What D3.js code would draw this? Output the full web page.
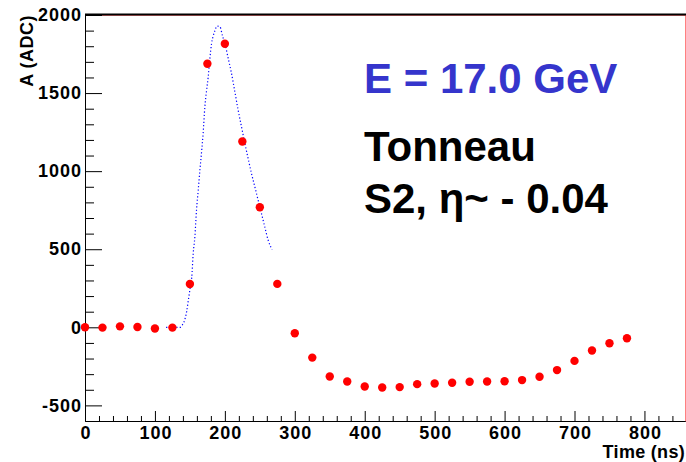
<!DOCTYPE html>
<html>
<head>
<meta charset="utf-8">
<script src="https://cdn.jsdelivr.net/npm/d3@7"></script>
<style>
  body { margin: 0; background: #fff; }
  text { font-family: "Liberation Sans", Arial, sans-serif; font-weight: bold; }
</style>
</head>
<body>
<div id="chart"></div>
<script>
// measured samples (ns, ADC)
var sampleTime = d3.range(0, 800, 25);
var sampleAdc = [0, -2, 6, 2, -8, -2, 277, 1688, 1816, 1190, 769, 278,
  -38, -194, -315, -347, -379, -385, -383, -364, -360, -355, -349, -347,
  -345, -338, -317, -274, -215, -149, -102, -70];

// fitted pulse shape (blue dotted)
var fitTime = [116, 136, 138.8, 141.6, 143.5, 145.5, 147.4, 149.2, 151.2, 152.6, 154.7,
  157.1, 159.5, 161.9, 164.3, 166.7, 169, 171.4, 173.8, 176.2, 178.6, 181, 183.3,
  185.7, 189, 192.9, 196.7, 200, 204.8, 209.5, 214.3, 219, 223.8, 228.6, 233.3,
  238.1, 242.9, 247.6, 252.4, 257.1, 261.9, 267.6];
var fitAdc = [0, 0, 13, 34, 62, 104, 162, 216, 280, 318, 472,
  579, 754, 878, 1006, 1124, 1246, 1412, 1515, 1605, 1722, 1818, 1865,
  1899, 1929, 1925, 1865, 1818, 1722, 1626, 1508, 1391, 1284, 1178, 1081,
  985, 899, 814, 728, 643, 558, 498];

var xMajor = d3.range(0, 801, 100);
var xMinor = d3.range(0, 858, 20).filter(function(d) { return d % 100 != 0; });
var yMajor = d3.range(-500, 2001, 500);
var yMinor = d3.range(-500, 2000, 100).filter(function(d) { return d % 500 != 0; });

var W = 686, H = 462;
var frame = {left: 85, right: 685, top: 15, bottom: 421};

// plain hyphen minus, as in the original
var fmt = function(d) { return String(d); };

var svg = d3.select("#chart").append("svg")
  .attr("width", W)
  .attr("height", H);

var x = d3.scaleLinear().domain([0, 858]).range([frame.left, frame.right]);
var y = d3.scaleLinear().domain([-600, 2000]).range([frame.bottom, frame.top]);

// frame
svg.append("rect")
  .attr("x", frame.left + 0.5).attr("y", frame.top + 0.5)
  .attr("width", frame.right - frame.left).attr("height", frame.bottom - frame.top)
  .attr("fill", "none")
  .attr("stroke", "#ff8080")
  .attr("stroke-width", 1);
svg.append("line")
  .attr("x1", frame.left).attr("x2", frame.right + 1)
  .attr("y1", frame.top - 0.5).attr("y2", frame.top - 0.5)
  .attr("stroke", "#000").attr("stroke-width", 2);

// x axis
var gx = svg.append("g")
  .attr("class", "axis")
  .attr("transform", "translate(0," + frame.bottom + ")");
gx.call(d3.axisBottom(x).tickValues(xMinor).tickSize(-5).tickSizeOuter(0).tickFormat(""));
gx.append("g").call(d3.axisBottom(x).tickValues(xMajor).tickSize(-10).tickSizeOuter(0)
  .tickPadding(5).tickFormat(fmt));
gx.selectAll("text").style("font-size", "18px").style("letter-spacing", "1px")
  .attr("dx", "0.5px").attr("fill", "#000");
gx.selectAll(".domain").attr("stroke", "#000");

// y axis
var gy = svg.append("g")
  .attr("class", "axis")
  .attr("transform", "translate(" + frame.left + ",0)");
gy.call(d3.axisLeft(y).tickValues(yMinor).tickSize(-9).tickSizeOuter(0).tickFormat(""));
gy.append("g").call(d3.axisLeft(y).tickValues(yMajor).tickSize(-17).tickSizeOuter(0)
  .tickPadding(3).tickFormat(fmt));
gy.selectAll("text").style("font-size", "18px").style("letter-spacing", "1px")
  .attr("fill", "#000");
gy.selectAll(".domain").attr("stroke", "#000");
gy.selectAll(".tick line").attr("stroke", "#000");

// axis titles
svg.append("text")
  .attr("x", frame.right)
  .attr("y", 458)
  .attr("text-anchor", "end")
  .style("font-size", "18px")
  .style("letter-spacing", "0.3px")
  .text("Time (ns)");

svg.append("text")
  .attr("transform", "translate(33," + frame.top + ") rotate(-90)")
  .attr("text-anchor", "end")
  .style("font-size", "18px")
  .style("letter-spacing", "0.5px")
  .text("A (ADC)");

// fitted pulse
var line = d3.line()
  .x(function(d) { return x(d[0]); })
  .y(function(d) { return y(d[1]); })
  .curve(d3.curveMonotoneX);

svg.append("path")
  .datum(d3.zip(fitTime, fitAdc))
  .attr("d", line)
  .attr("fill", "none")
  .attr("stroke", "#0000ff")
  .attr("stroke-width", 1.2)
  .attr("stroke-dasharray", "1.2,2.2");

// samples
svg.selectAll(".pt")
  .data(d3.zip(sampleTime, sampleAdc))
  .enter()
  .append("circle")
    .attr("class", "pt")
    .attr("cx", function(d) { return x(d[0]); })
    .attr("cy", function(d) { return y(d[1]); })
    .attr("r", 4.2)
    .attr("fill", "#ff0000");

// labels
svg.append("text")
  .attr("x", 364).attr("y", 93)
  .style("font-size", "42px")
  .attr("fill", "#3535cc")
  .text("E = 17.0 GeV");

svg.append("text")
  .attr("x", 364).attr("y", 161)
  .style("font-size", "42px")
  .attr("fill", "#000")
  .text("Tonneau");

svg.append("text")
  .attr("x", 364).attr("y", 213)
  .style("font-size", "42px")
  .attr("fill", "#000")
  .text("S2, η~ - 0.04");
</script>
</body>
</html>
